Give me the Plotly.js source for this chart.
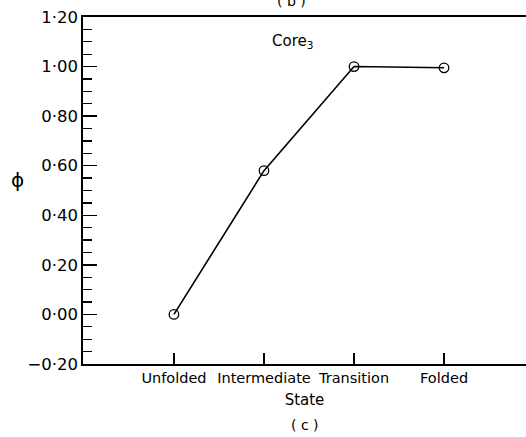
<!DOCTYPE html>
<html>
<head>
<meta charset="utf-8">
<script src="https://cdn.plot.ly/plotly-3.0.1.min.js"></script>
<style>html,body{margin:0;padding:0;background:#fff;}#chart{width:526px;height:437px;}</style>
</head>
<body>
<div id="chart"></div>
<script>
const states = ['Unfolded', 'Intermediate', 'Transition', 'Folded'];
const phiValues = [0.00, 0.58, 1.00, 0.995];
const yTickVals = [-0.2, 0.0, 0.2, 0.4, 0.6, 0.8, 1.0, 1.2];
const yTickText = ['\u22120\u00b720', '0\u00b700', '0\u00b720', '0\u00b740', '0\u00b760', '0\u00b780', '1\u00b700', '1\u00b720'];
const seriesLabel = 'Core<sub>3</sub>';
const xTitle = 'State';
const panelLabel = '( c )';
const prevPanelLabel = '( b )';
const yTitle = '\u03d5';

const font = 'DejaVu Sans, sans-serif';

const trace = {
  x: states,
  y: phiValues,
  type: 'scatter',
  mode: 'lines+markers',
  line: {color: '#000', width: 1.6},
  marker: {symbol: 'circle-open', size: 9.5, color: '#000', line: {width: 1.3, color: '#000'}},
  cliponaxis: false,
  showlegend: false,
  hoverinfo: 'skip'
};

const layout = {
  width: 526,
  height: 437,
  margin: {l: 83, r: 0, t: 17, b: 73},
  paper_bgcolor: '#fff',
  plot_bgcolor: '#fff',
  font: {family: font, color: '#000', size: 14},
  xaxis: {
    type: 'category',
    range: [-1.01, 3.91],
    showgrid: false,
    zeroline: false,
    showline: true,
    linecolor: '#000',
    linewidth: 1.6,
    mirror: true,
    ticks: 'inside',
    ticklen: 11,
    tickwidth: 1.5,
    tickcolor: '#000',
    tickfont: {family: font, size: 14.5, color: '#000'},
    title: {text: xTitle, font: {family: font, size: 15, color: '#000'}, standoff: 9}
  },
  yaxis: {
    range: [-0.2, 1.2],
    showgrid: false,
    zeroline: false,
    showline: true,
    linecolor: '#000',
    linewidth: 1.6,
    ticks: 'inside',
    ticklen: 14,
    tickwidth: 1.5,
    tickcolor: '#000',
    tickmode: 'array',
    tickvals: yTickVals,
    ticktext: yTickText,
    tickfont: {family: font, size: 16.5, color: '#000'},
    minor: {tickmode: 'linear', tick0: -0.2, dtick: 0.05, ticks: 'inside', ticklen: 9, tickwidth: 1.3, tickcolor: '#000', showgrid: false}
  },
  annotations: [
    {text: seriesLabel, xref: 'paper', yref: 'paper', x: 0.472, y: 0.93, xanchor: 'center', yanchor: 'middle', showarrow: false, font: {family: font, size: 15, color: '#000'}},
    {text: yTitle, xref: 'paper', yref: 'paper', x: -0.148, y: 0.53, xanchor: 'center', yanchor: 'middle', showarrow: false, font: {family: font, size: 20, color: '#000'}},
    {text: panelLabel, xref: 'paper', yref: 'paper', x: 0.5, y: -0.176, xanchor: 'center', yanchor: 'middle', showarrow: false, font: {family: font, size: 14, color: '#000'}},
    {text: prevPanelLabel, xref: 'paper', yref: 'paper', x: 0.47, y: 1.045, xanchor: 'center', yanchor: 'middle', showarrow: false, font: {family: font, size: 14, color: '#000'}}
  ]
};

Plotly.newPlot('chart', [trace], layout, {staticPlot: true, displayModeBar: false});
</script>
</body>
</html>
